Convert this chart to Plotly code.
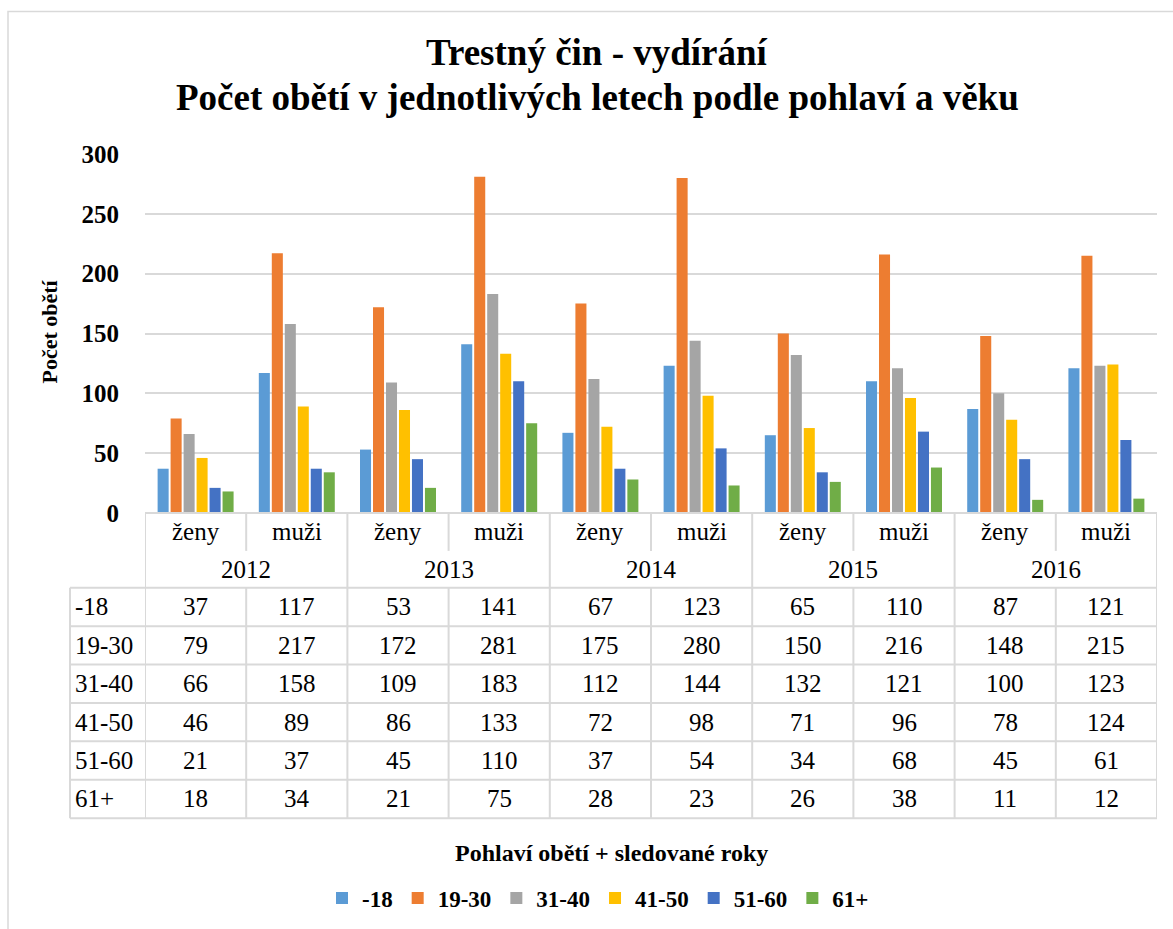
import plotly.graph_objects as go

# ---- data ----
years = ["2012", "2013", "2014", "2015", "2016"]
sexes = ["ženy", "muži"]
age_groups = ["-18", "19-30", "31-40", "41-50", "51-60", "61+"]
v_18 = [37, 117, 53, 141, 67, 123, 65, 110, 87, 121]
v_19_30 = [79, 217, 172, 281, 175, 280, 150, 216, 148, 215]
v_31_40 = [66, 158, 109, 183, 112, 144, 132, 121, 100, 123]
v_41_50 = [46, 89, 86, 133, 72, 98, 71, 96, 78, 124]
v_51_60 = [21, 37, 45, 110, 37, 54, 34, 68, 45, 61]
v_61 = [18, 34, 21, 75, 28, 23, 26, 38, 11, 12]
series = [v_18, v_19_30, v_31_40, v_41_50, v_51_60, v_61]
colors = ["#5B9BD5", "#ED7D31", "#A5A5A5", "#FFC000", "#4472C4", "#70AD47"]

title1 = "Trestný čin - vydírání"
title2 = "Počet obětí v jednotlivých letech podle pohlaví a věku"
y_title = "Počet obětí"
x_title = "Pohlaví obětí + sledované roky"

# ---- layout geometry (pixels) ----
W, H = 1173, 929
L, R = 145, 1157          # plot area left/right
T, B = 154, 514           # plot area top/bottom
FONT = "Liberation Serif"
GRID = "#d9d9d9"

def py(p):   # pixel y -> paper y
    return (B - p) / (B - T)

def px(p):   # pixel x -> paper x
    return (p - L) / (R - L)

n_cat = len(years) * len(sexes)
xs = list(range(n_cat))

fig = go.Figure()
for name, vals, col in zip(age_groups, series, colors):
    fig.add_trace(go.Bar(x=xs, y=vals, name=name, marker=dict(color=col, line=dict(width=0))))

shapes = []
annotations = []

# table geometry
row_h = 38.5
hdr1_top, hdr1_bot = B, 552
hdr2_bot = 589
data_tops = [hdr2_bot + i * row_h for i in range(len(age_groups) + 1)]
table_bot = data_tops[-1]
label_left = 70

line = dict(color=GRID, width=2)
# horizontal lines
shapes.append(dict(type="line", xref="paper", yref="paper", x0=0, x1=1, y0=py(B), y1=py(B), line=line))
for yt in data_tops:
    shapes.append(dict(type="line", xref="paper", yref="paper", x0=px(label_left), x1=1,
                       y0=py(yt), y1=py(yt), line=line))
# vertical lines
shapes.append(dict(type="line", xref="paper", yref="paper", x0=px(label_left), x1=px(label_left),
                   y0=py(hdr2_bot), y1=py(table_bot), line=line))
for k in range(n_cat + 1):
    xv = k - 0.5
    if k % 2 == 0:
        shapes.append(dict(type="line", xref="x", yref="paper", x0=xv, x1=xv,
                           y0=py(B), y1=py(table_bot), line=line))
    else:
        shapes.append(dict(type="line", xref="x", yref="paper", x0=xv, x1=xv,
                           y0=py(B), y1=py(hdr1_bot), line=line))
        shapes.append(dict(type="line", xref="x", yref="paper", x0=xv, x1=xv,
                           y0=py(hdr2_bot), y1=py(table_bot), line=line))

# outer chart border
shapes.append(dict(type="rect", xref="paper", yref="paper", x0=px(8), x1=px(1200),
                   y0=py(11), y1=py(960), line=dict(color=GRID, width=1.5)))

tfont = dict(family=FONT, size=25, color="black")

def ann(x, y, text, font, xref="paper", xanchor="center", **kw):
    d = dict(x=x, y=y, xref=xref, yref="paper", text=text, showarrow=False, font=font,
             xanchor=xanchor, yanchor="middle")
    d.update(kw)
    return d

# header rows
for i in range(n_cat):
    annotations.append(ann(i, py((hdr1_top + hdr1_bot) / 2), sexes[i % 2], tfont, xref="x"))
for j, yr in enumerate(years):
    annotations.append(ann(2 * j + 0.5, py((hdr1_bot + hdr2_bot) / 2), yr, tfont, xref="x"))
# data rows
for r, (name, vals) in enumerate(zip(age_groups, series)):
    yc = py(data_tops[r] + row_h / 2)
    annotations.append(ann(px(label_left + 3), yc, name, tfont, xanchor="left"))
    for i, v in enumerate(vals):
        annotations.append(ann(i, yc, str(v), tfont, xref="x"))

# titles
def bfont(s):
    return dict(family=FONT, size=s, color="black", weight="bold")

annotations.append(ann(px(597), py(52), title1, bfont(37)))
annotations.append(ann(px(597), py(97), title2, bfont(37)))
annotations.append(ann(px(50), py(332), y_title, bfont(22), textangle=-90))
annotations.append(ann(px(611), py(855), x_title, bfont(24)))

fig.update_layout(
    width=W, height=H, autosize=False,
    margin=dict(l=L, r=W - R, t=T, b=H - B, pad=0),
    paper_bgcolor="white", plot_bgcolor="white",
    font=dict(family=FONT, color="black"),
    barmode="group", bargap=0.23, bargroupgap=0.15,
    showlegend=True,
    legend=dict(orientation="h", x=px(598), xanchor="center", y=py(898), yanchor="middle",
                font=dict(family=FONT, size=23, color="black", weight="bold"),
                itemwidth=30, traceorder="normal"),
    xaxis=dict(range=[-0.5, n_cat - 0.5], showticklabels=False, showgrid=False,
               zeroline=False, showline=False, ticks=""),
    yaxis=dict(range=[0, 300], dtick=50, showgrid=True, gridcolor=GRID, gridwidth=2,
               zeroline=True, zerolinecolor=GRID, zerolinewidth=2, showline=False,
               tickfont=dict(family=FONT, size=25, color="black", weight="bold"),
               ticklabelstandoff=25),
    shapes=shapes,
    annotations=annotations,
)

fig.write_html("out.html", config={"displayModeBar": False},
               post_script="document.body.style.margin='0';")
